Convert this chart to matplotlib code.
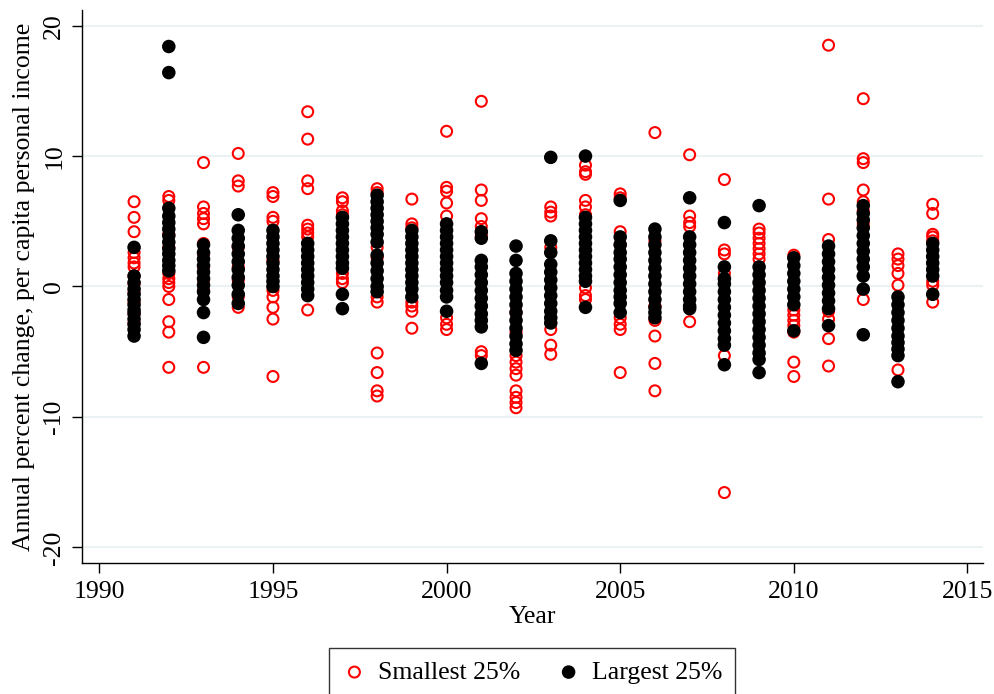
import numpy as np
import matplotlib.pyplot as plt

plt.rcParams['font.family'] = ['Liberation Serif', 'DejaVu Serif']
plt.rcParams['axes.unicode_minus'] = False

years = list(range(1991, 2015))

# annual % change in per capita personal income, states grouped by size
smallest = [
    [6.5, 5.3, 4.2, 2.6, 2.2, 1.8, 1.5, 0.8, 0.2, -0.5, -1.2, -2.0, -2.8],   # 1991
    [6.9, 6.6, 4.0, 3.0, 1.0, 0.6, 0.3, 0.0, -1.0, -2.7, -3.5, -6.2],        # 1992
    [9.5, 6.1, 5.6, 5.2, 4.8, 3.3, 2.5, 1.5, 0.5, -0.3, -6.2],               # 1993
    [10.2, 8.1, 7.7, 3.0, 1.5, 0.5, -0.8, -1.6],                             # 1994
    [7.2, 6.9, 5.3, 5.0, 2.0, -0.3, -0.8, -1.6, -2.5, -6.9],                 # 1995
    [13.4, 11.3, 8.1, 7.5, 4.7, 4.4, 4.1, 3.8, -1.8],                        # 1996
    [6.8, 6.5, 5.8, 5.5, 1.0, 0.6, 0.3],                                     # 1997
    [7.5, 7.2, 3.0, 2.2, -0.8, -1.2, -5.1, -6.6, -8.0, -8.4],                # 1998
    [6.7, 4.8, 4.5, -1.2, -1.5, -1.9, -3.2],                                 # 1999
    [11.9, 7.6, 7.3, 6.4, 5.4, -2.4, -2.9, -3.3],                            # 2000
    [14.2, 7.4, 6.6, 5.2, 4.6, 3.9, -5.0, -5.3],                             # 2001
    [-2.0, -3.5, -5.3, -5.8, -6.3, -6.8, -8.0, -8.5, -8.9, -9.3],            # 2002
    [6.1, 5.7, 5.4, 3.0, -3.3, -4.5, -5.2],                                  # 2003
    [9.3, 8.8, 8.6, 6.6, 6.1, 5.5, -0.1, -0.7, -1.0],                        # 2004
    [7.1, 6.8, 4.2, 3.2, -2.4, -2.9, -3.3, -6.6],                            # 2005
    [11.8, 3.5, -1.5, -2.6, -3.8, -5.9, -8.0],                               # 2006
    [10.1, 5.4, 4.9, 4.6, -2.7],                                             # 2007
    [8.2, 2.8, 2.5, 1.0, -5.3, -15.8],                                       # 2008
    [4.4, 4.1, 3.7, 3.3, 2.9, 2.5, 2.1],                                     # 2009
    [2.4, -1.8, -2.2, -2.6, -3.0, -3.5, -5.8, -6.9],                         # 2010
    [18.5, 6.7, 3.6, -1.9, -2.5, -4.0, -6.1],                                # 2011
    [14.4, 9.8, 9.5, 7.4, 6.5, 5.8, 4.8, -1.0],                              # 2012
    [2.5, 2.1, 1.6, 1.0, 0.1, -6.4],                                         # 2013
    [6.3, 5.6, 4.0, 3.8, 3.5, 0.4, 0.1, -1.2],                               # 2014
]

largest = [
    [3.0, 0.8, 0.3, -0.2, -0.6, -1.0, -1.4, -1.8, -2.1, -2.5, -2.9, -3.3, -3.8],
    [18.4, 16.4, 6.0, 5.4, 4.9, 4.4, 3.9, 3.4, 2.9, 2.5, 2.0, 1.6, 1.2],
    [3.2, 2.6, 2.1, 1.6, 1.1, 0.6, 0.1, -0.4, -1.0, -2.0, -3.9],
    [5.5, 4.3, 3.7, 3.1, 2.5, 1.9, 1.3, 0.7, 0.1, -0.6, -1.3],
    [4.3, 3.8, 3.3, 2.8, 2.3, 1.8, 1.3, 0.8, 0.4, 0.0],
    [3.3, 2.8, 2.3, 1.8, 1.3, 0.8, 0.3, -0.2, -0.7],
    [5.3, 4.8, 4.3, 3.8, 3.3, 2.8, 2.3, 1.8, 1.4, -0.6, -1.7],
    [7.0, 6.5, 6.0, 5.5, 5.0, 4.5, 4.0, 3.4, 2.4, 1.8, 1.2, 0.6, 0.0, -0.4],
    [4.3, 3.8, 3.3, 2.8, 2.3, 1.8, 1.3, 0.8, 0.3, -0.2, -0.8],
    [4.8, 4.3, 3.8, 3.3, 2.8, 2.3, 1.8, 1.3, 0.8, 0.3, -0.3, -0.8, -1.9],
    [4.2, 3.7, 2.0, 1.5, 0.9, 0.3, -0.3, -0.9, -1.5, -2.1, -2.6, -3.1, -5.9],
    [3.1, 2.0, 1.0, 0.4, -0.2, -0.8, -1.4, -2.0, -2.6, -3.2, -3.8, -4.4, -4.9],
    [9.9, 3.5, 2.6, 1.7, 1.1, 0.5, -0.1, -0.7, -1.3, -1.9, -2.4, -2.8],
    [10.0, 5.3, 4.8, 4.3, 3.8, 3.3, 2.8, 2.3, 1.8, 1.3, 0.8, 0.4, -1.6],
    [6.6, 3.8, 3.2, 2.6, 2.1, 1.5, 0.9, 0.3, -0.3, -0.8, -1.3, -2.0],
    [4.4, 3.8, 3.2, 2.6, 2.0, 1.4, 0.8, 0.2, -0.4, -1.0, -1.6, -2.0, -2.4],
    [6.8, 3.8, 3.2, 2.6, 2.0, 1.4, 0.8, 0.2, -0.4, -1.0, -1.5, -1.7],
    [4.9, 1.5, 0.6, 0.2, -0.4, -1.0, -1.6, -2.2, -2.8, -3.4, -4.0, -4.5, -6.0],
    [6.2, 1.5, 0.9, 0.3, -0.3, -0.9, -1.5, -2.1, -2.7, -3.3, -3.9, -4.5, -5.1, -5.6, -6.6],
    [2.2, 1.6, 1.0, 0.4, -0.2, -0.8, -1.4, -3.4],
    [3.1, 2.5, 1.9, 1.3, 0.7, 0.1, -0.5, -1.1, -1.7, -3.0],
    [6.2, 5.6, 5.1, 4.5, 3.9, 3.3, 2.7, 2.1, 1.5, 0.8, -0.2, -3.7],
    [-0.8, -1.4, -2.0, -2.6, -3.2, -3.8, -4.3, -4.8, -5.3, -7.3],
    [3.3, 2.8, 2.3, 1.8, 1.3, 0.8, -0.6],
]

yticks = [-20, -10, 0, 10, 20]
xticks = [1990, 1995, 2000, 2005, 2010, 2015]

sx = np.concatenate([[yr] * len(v) for yr, v in zip(years, smallest)])
sy = np.concatenate(smallest)
lx = np.concatenate([[yr] * len(v) for yr, v in zip(years, largest)])
ly = np.concatenate(largest)

fig = plt.figure(figsize=(9.95, 6.94), dpi=100)
ax = fig.add_axes([0.0824, 0.1888, 0.9056, 0.7968])

for t in yticks:
    ax.axhline(t, color='#eaf2f3', lw=1.5, zorder=0)

ax.scatter(sx, sy, s=62, facecolors='none', edgecolors='#ff0000', linewidths=1.5,
           label='Smallest 25%', zorder=2)
ax.scatter(lx, ly, s=95, color='black', edgecolors='none',
           label='Largest 25%', zorder=3)

ax.set_xlim(1989.5, 2015.45)
ax.set_ylim(-21.2, 21.2)
ax.set_xticks(xticks)
ax.set_yticks(yticks)
ax.tick_params(direction='out', length=7, width=1, labelsize=18.5, pad=6)
ax.tick_params(axis='y', labelrotation=90, pad=5)
for lab in ax.get_yticklabels():
    lab.set_va('center')

for side in ['top', 'right']:
    ax.spines[side].set_visible(False)
for side in ['left', 'bottom']:
    ax.spines[side].set_linewidth(1)

ax.set_xlabel('Year', fontsize=18.5, labelpad=2)
ax.set_ylabel('Annual percent change, per capita personal income', fontsize=18.5, labelpad=6)

leg = fig.legend(loc='upper center', bbox_to_anchor=(0.5345, 0.0663), ncol=2,
                 fontsize=18.5, frameon=True, fancybox=False, edgecolor='black',
                 handletextpad=0.4, columnspacing=1.4, borderpad=0.5, handlelength=1.0,
                 borderaxespad=0, scatterpoints=1)
leg.get_frame().set_linewidth(1)

fig.savefig('out.png', dpi=100)
